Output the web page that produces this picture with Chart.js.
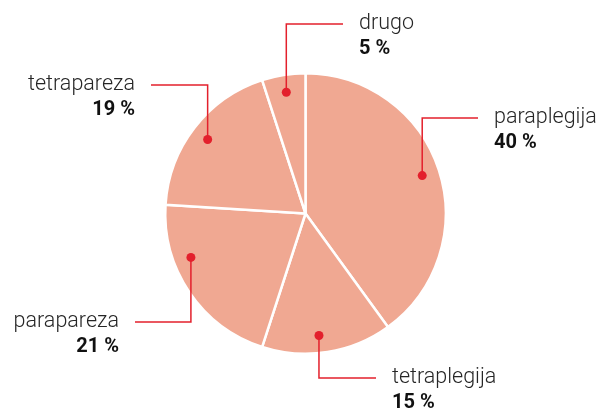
<!DOCTYPE html>
<html>
<head>
<meta charset="utf-8">
<script src="https://cdn.jsdelivr.net/npm/chart.js@4"></script>
<style>
  html, body { margin: 0; padding: 0; background: #fff; }
  #wrap { width: 602px; height: 410px; position: relative; }
</style>
</head>
<body>
<div id="wrap"><canvas id="pieChart"></canvas></div>
<script>
// Data
const categories = ['paraplegija', 'tetraplegija', 'parapareza', 'tetrapareza', 'drugo'];
const shares = [40, 15, 21, 19, 5];

// Callout layout (where each label line runs)
const callouts = [
  { frac: 0.5,  lineY: 118, endX: 478, side: 'right' },
  { frac: 0.55, lineY: 378, endX: 376, side: 'right' },
  { frac: 0.675, lineY: 322, endX: 135, side: 'left' },
  { frac: 0.49, lineY: 85,  endX: 151, side: 'left' },
  { frac: 0.5,  lineY: 24,  endX: 343, side: 'right' }
];

const calloutPlugin = {
  id: 'callouts',
  afterDatasetsDraw(chart) {
    const ctx = chart.ctx;
    const meta = chart.getDatasetMeta(0);
    meta.data.forEach((arc, i) => {
      const c = callouts[i];
      const p = arc.getProps(['x', 'y', 'startAngle', 'endAngle', 'outerRadius'], true);
      const a = p.startAngle + (p.endAngle - p.startAngle) * c.frac;
      const r = p.outerRadius * 0.875;
      const dx = p.x + r * Math.cos(a);
      const dy = p.y + r * Math.sin(a);

      ctx.save();
      ctx.strokeStyle = '#e3202c';
      ctx.lineWidth = 1.5;
      ctx.beginPath();
      ctx.moveTo(dx, dy);
      ctx.lineTo(dx, c.lineY);
      ctx.lineTo(c.endX, c.lineY);
      ctx.stroke();

      ctx.fillStyle = '#e3202c';
      ctx.beginPath();
      ctx.arc(dx, dy, 4.5, 0, Math.PI * 2);
      ctx.fill();

      const tx = c.side === 'right' ? c.endX + 16 : c.endX - 16;
      ctx.textAlign = c.side === 'right' ? 'left' : 'right';
      ctx.textBaseline = 'alphabetic';
      ctx.fillStyle = '#262626';
      ctx.font = '300 21.5px Roboto';
      ctx.fillText(categories[i], tx, c.lineY + 5);
      ctx.fillStyle = '#111111';
      ctx.font = 'bold 20px Roboto';
      ctx.fillText(shares[i] + ' %', tx, c.lineY + 30);
      ctx.restore();
    });
  }
};

new Chart(document.getElementById('pieChart'), {
  type: 'pie',
  data: {
    labels: categories,
    datasets: [{
      data: shares,
      backgroundColor: '#f0a892',
      borderColor: '#ffffff',
      borderWidth: 2.5
    }]
  },
  options: {
    responsive: true,
    maintainAspectRatio: false,
    animation: false,
    layout: { padding: { top: 72, bottom: 55, left: 9, right: 0 } },
    plugins: {
      legend: { display: false },
      tooltip: { enabled: false }
    }
  },
  plugins: [calloutPlugin]
});
</script>
</body>
</html>
